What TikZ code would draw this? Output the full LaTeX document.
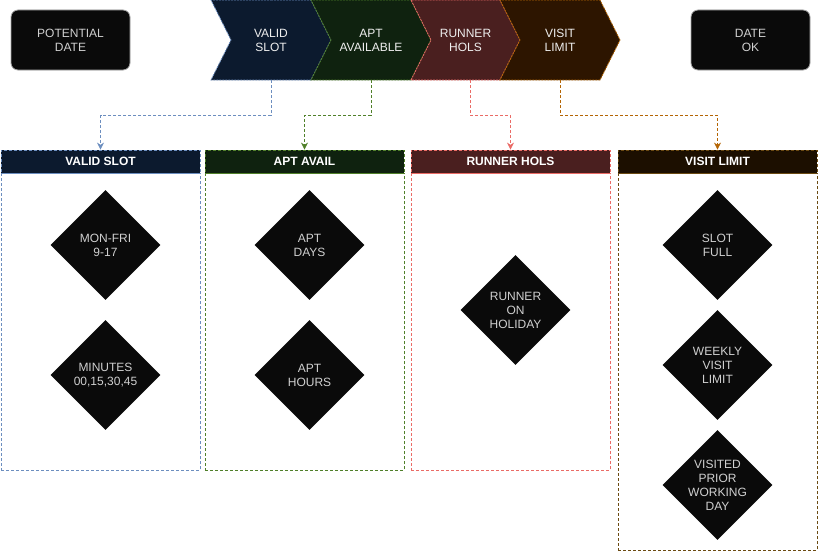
\documentclass[tikz,border=0pt]{standalone}
\usepackage{fontspec}
\setmainfont{Liberation Sans}
\usetikzlibrary{shapes.geometric,shapes.symbols,arrows.meta,positioning}

\definecolor{slotfill}{HTML}{0C1A2E}
\definecolor{slotline}{HTML}{6C8EBF}
\definecolor{aptfill}{HTML}{0F220F}
\definecolor{aptline}{HTML}{50802A}
\definecolor{holfill}{HTML}{4A1F1F}
\definecolor{holline}{HTML}{EA6B66}
\definecolor{visfill}{HTML}{2D1500}
\definecolor{visheadfill}{HTML}{1C0F00}
\definecolor{visline}{HTML}{B46504}
\definecolor{visboxline}{HTML}{6B4A12}
\definecolor{boxfill}{HTML}{0A0A0A}
\definecolor{boxtext}{HTML}{D0D0D0}
\definecolor{chevtext}{HTML}{EEEEEE}

\tikzset{
  endbox/.style={rectangle, rounded corners=7pt, fill=boxfill, draw=gray!70,
    minimum width=119pt, minimum height=60pt, align=center, text=boxtext},
  chev/.style={signal, signal from=west, signal to=east, signal pointer angle=126.87,
    minimum width=120pt, minimum height=80pt, inner sep=0pt, align=center,
    text=chevtext, dash pattern=on 2pt off 1pt},
  head/.style={rectangle, minimum width=199pt, minimum height=23pt, inner sep=0pt,
    text=white, font=\fontsize{12}{14}\selectfont\bfseries, dash pattern=on 3pt off 2pt},
  panel/.style={rectangle, minimum width=199pt, inner sep=0pt, outer sep=0pt,
    dash pattern=on 3pt off 2pt},
  dec/.style={diamond, fill=boxfill, minimum width=110pt, minimum height=110pt,
    inner sep=0pt, align=center, text=boxtext},
  link/.style={dash pattern=on 3pt off 2pt, -{Stealth[length=7pt,width=7pt]}}
}

\begin{document}
\begin{tikzpicture}[x=1pt, y=-1pt, line width=0.8pt, font=\fontsize{12}{14}\selectfont]
\useasboundingbox (0,0) rectangle (818,551);

% top row
\node[endbox] (start) at (70.5,40) {POTENTIAL\\DATE};
\node[endbox] (finish) at (750.5,40) {DATE\\OK};

\node[chev, fill=slotfill, draw=slotline] (valid) at (271,40) {VALID\\SLOT};
\node[chev, fill=aptfill, draw=aptline] (apt) at (371,40) {APT\\AVAILABLE};
\node[chev, fill=holfill, draw=holline, minimum width=109pt] (hols) at (465.5,40) {RUNNER\\HOLS};
\node[chev, fill=visfill, draw=visline] (visit) at (560,40) {VISIT\\LIMIT};

% panels
\node[head, fill=slotfill, draw=slotline] (slothead) at (100.5,161.5) {VALID SLOT};
\node[panel, draw=slotline, below=0pt of slothead, minimum height=297pt] (slotbox) {};
\node[head, fill=aptfill, draw=aptline] (apthead) at (304.5,161.5) {APT AVAIL};
\node[panel, draw=aptline, below=0pt of apthead, minimum height=297pt] (aptbox) {};
\node[head, fill=holfill, draw=holline] (holhead) at (510.5,161.5) {RUNNER HOLS};
\node[panel, draw=holline, below=0pt of holhead, minimum height=297pt] (holbox) {};
\node[head, fill=visheadfill, draw=visboxline] (vishead) at (717.5,161.5) {VISIT LIMIT};
\node[panel, draw=visboxline, below=0pt of vishead, minimum height=377pt] (visbox) {};

% checks
\node[dec] (monfri) at (105.5,245) {MON-FRI\\9-17};
\node[dec] (minutes) at (105.5,375) {MINUTES\\00,15,30,45};
\node[dec] (aptdays) at (309.5,245) {APT\\DAYS};
\node[dec] (apthours) at (309.5,375) {APT\\HOURS};
\node[dec] (onhol) at (515.5,310) {RUNNER\\ON\\HOLIDAY};
\node[dec] (slotfull) at (717.5,245) {SLOT\\FULL};
\node[dec] (weekly) at (717.5,365) {WEEKLY\\VISIT\\LIMIT};
\node[dec] (prior) at (717.5,485) {VISITED\\PRIOR\\WORKING\\DAY};

% links
\draw[link, slotline] (valid.south) -- ++(0,35) -| (slothead.north);
\draw[link, aptline] (apt.south) -- ++(0,35) -| (apthead.north);
\draw[link, holline] ([xshift=4.5pt]hols.south) -- ++(0,35) -| (holhead.north);
\draw[link, visline] (visit.south) -- ++(0,35) -| (vishead.north);

\end{tikzpicture}
\end{document}
